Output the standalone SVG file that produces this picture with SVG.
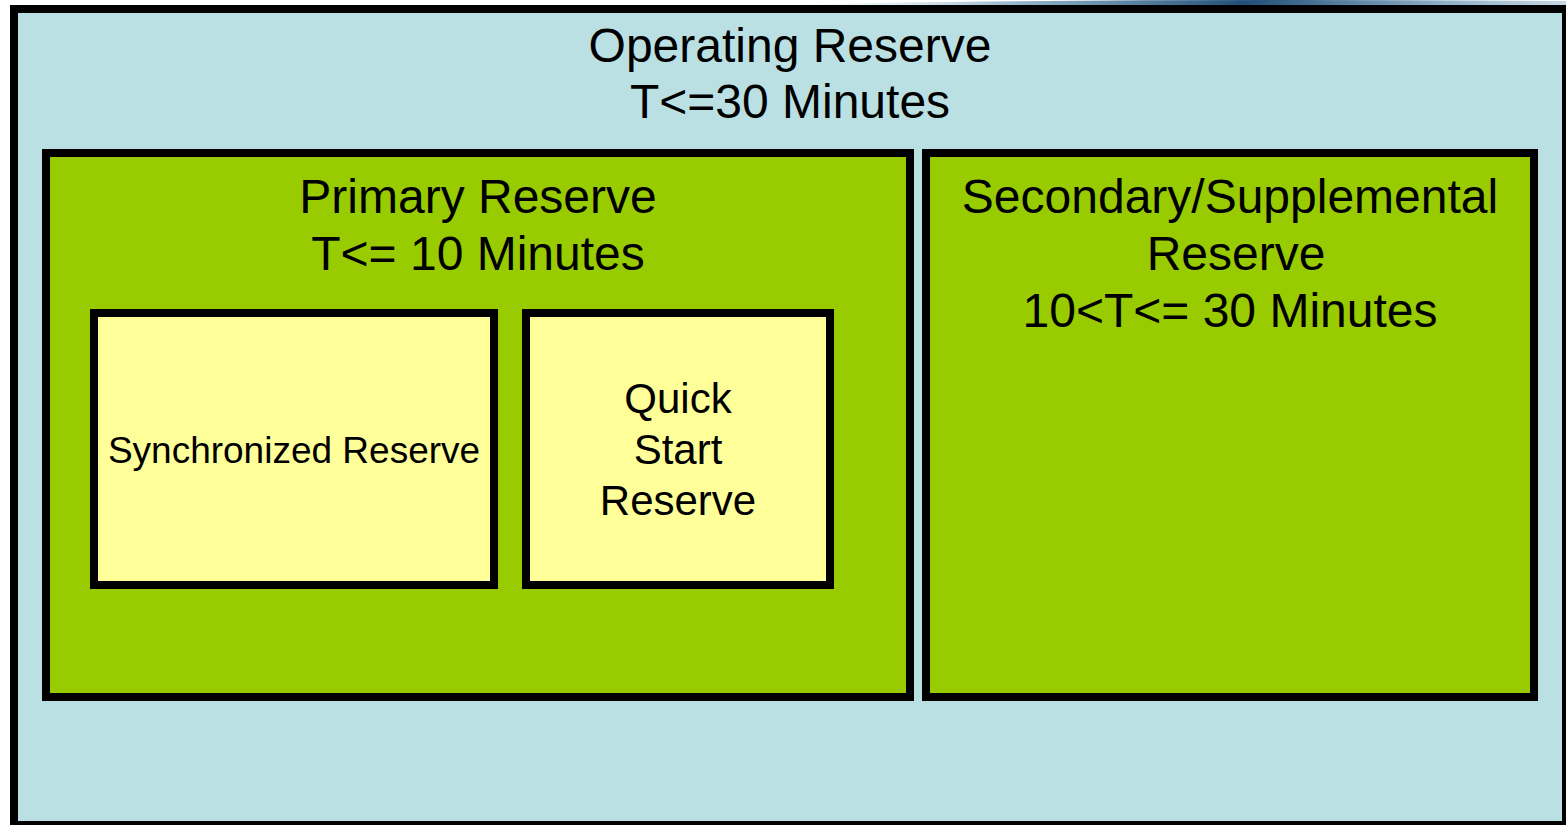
<svg xmlns="http://www.w3.org/2000/svg" width="1566" height="825" viewBox="0 0 1566 825">
<defs>
<style>
.box{stroke:#000;stroke-width:8}
.outer{fill:#bbe0e3}
.green{fill:#99cc00}
.yellow{fill:#ffff99}
text{font-family:"Liberation Sans",Arial,sans-serif;fill:#000;text-anchor:middle}
.big{font-size:48px}
.mid{font-size:42px}
.small{font-size:37px}
</style>
<linearGradient id="sw" x1="0" y1="0" x2="1" y2="0">
<stop offset="0" stop-color="#ffffff" stop-opacity="0"/>
<stop offset="0.3" stop-color="#9fbcd0"/>
<stop offset="0.6" stop-color="#1f4f78"/>
<stop offset="0.85" stop-color="#8fb0c8"/>
<stop offset="1" stop-color="#c8d8e4"/>
</linearGradient>
</defs>
<rect x="0" y="0" width="1566" height="825" fill="#fff"/>
<path d="M760 5 Q1100 -2 1566 1 L1566 5 Z" fill="url(#sw)"/>
<g id="operating-reserve">
<rect class="box outer" x="14" y="9" width="1552" height="816"/>
<text class="big" x="790" y="62">Operating Reserve</text>
<text class="big" x="790" y="118">T&lt;=30 Minutes</text>
</g>
<g id="primary-reserve">
<rect class="box green" x="46" y="153" width="864" height="544"/>
<text class="big" x="478" y="213">Primary Reserve</text>
<text class="big" x="478" y="270">T&lt;= 10 Minutes</text>
</g>
<g id="secondary-reserve">
<rect class="box green" x="926" y="153" width="608" height="544"/>
<text class="big" x="1230" y="213">Secondary/Supplemental</text>
<text class="big" x="1236" y="270">Reserve</text>
<text class="big" x="1230" y="327">10&lt;T&lt;= 30 Minutes</text>
</g>
<g id="synchronized-reserve">
<rect class="box yellow" x="94" y="313" width="400" height="272"/>
<text class="small" x="294" y="463">Synchronized Reserve</text>
</g>
<g id="quick-start-reserve">
<rect class="box yellow" x="526" y="313" width="304" height="272"/>
<text class="mid" x="678" y="413">Quick</text>
<text class="mid" x="678" y="464">Start</text>
<text class="mid" x="678" y="515">Reserve</text>
</g>
<g id="connectors"></g>
</svg>
